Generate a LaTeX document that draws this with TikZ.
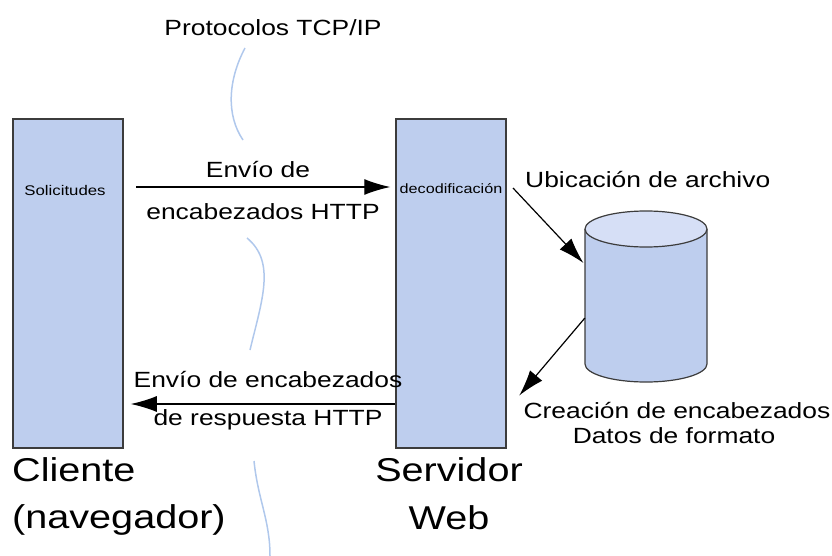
\documentclass[tikz,border=0pt]{standalone}
\usepackage{fontspec}
\setmainfont{Liberation Sans}[FakeStretch=1.2]
\usetikzlibrary{arrows.meta}
\definecolor{boxblue}{RGB}{190,206,238}
\definecolor{topblue}{RGB}{214,223,246}
\definecolor{wireblue}{RGB}{176,200,236}
\definecolor{linegray}{RGB}{60,60,60}
\begin{document}
\begin{tikzpicture}[x=1pt,y=-1pt,
    wire/.style={draw=wireblue,line width=1.5pt},
    msg/.style={-{Latex[length=26pt,width=16pt]},line width=1.2pt,shorten >=2pt}]

      \useasboundingbox (0,0) rectangle (832,556);

      % protocol wire
      \draw[wire] (245,48)  .. controls (228,80)  and (226,115) .. (243,140);
      \draw[wire] (247,238) .. controls (276,262) and (262,300) .. (250,350);
      \draw[wire] (254,461) .. controls (258,500) and (270,520) .. (270,556);

      \begin{scope}[every node/.style={draw=linegray,line width=1.5pt,fill=boxblue,
                    minimum width=110pt,minimum height=329pt,inner sep=0pt}]
        \node (cli) at (68,283.5)  {};
        \node (srv) at (451,283.5) {};
      \end{scope}

      % file store
      \draw[linegray,line width=1.2pt,fill=boxblue]
        (585,229) -- (585,364) arc[start angle=180,end angle=0,x radius=61,y radius=18]
        -- (707,229);
      \draw[linegray,line width=1.2pt,fill=topblue] (646,229) ellipse[x radius=61,y radius=18];
      \node[minimum width=122pt,minimum height=170pt,inner sep=0pt] (db) at (646,297) {};

      \begin{scope}[every node/.style={inner sep=0pt,font=\fontsize{14}{16}\selectfont}]
        \node (sol) at (65,190)  {Solicitudes};
        \node (dec) at (451,189) {\fontsize{13.5}{16}\selectfont decodificación};
      \end{scope}

      \begin{scope}[every node/.style={inner sep=0pt,font=\fontsize{22}{26}\selectfont}]
        \node (tcp)  at (273,28)  {Protocolos TCP/IP};
        \node (req1) at (258,170) {Envío de};
        \node (req2) at (263,212) {encabezados HTTP};
        \node (res1) at (268,380) {Envío de encabezados};
        \node (res2) at (268,420) {de respuesta HTTP};
        \node[anchor=west] (loc) at (525,180) {Ubicación de archivo};
        \node (hdr) at (677,411) {Creación de encabezados};
        \node (fmt) at (674,436) {Datos de formato};
      \end{scope}

      \begin{scope}[every node/.style={inner sep=0pt,font=\fontsize{33}{38}\selectfont}]
        \node[anchor=west] (cname) at (12,470) {Cliente};
        \node[anchor=west] (cnav)  at (12,520) {(navegador)};
        \node (sname) at (449,470) {Servidor};
        \node (sweb)  at (449,518) {Web};
      \end{scope}

      \coordinate (a1) at (136,187);
      \coordinate (a2) at (0,404);
      \coordinate (u1) at (513,188);
      \coordinate (c2) at (518,397);

      \draw[msg,shorten >=5pt] (a1) -- (a1 -| srv.west);
      \draw[msg,shorten >=7pt] (srv.west |- a2) -- (cli.east |- a2);
      \draw[msg] (u1) -- (db.152);
      \draw[msg] (db.199) -- (c2);

    \end{tikzpicture}
\end{document}
